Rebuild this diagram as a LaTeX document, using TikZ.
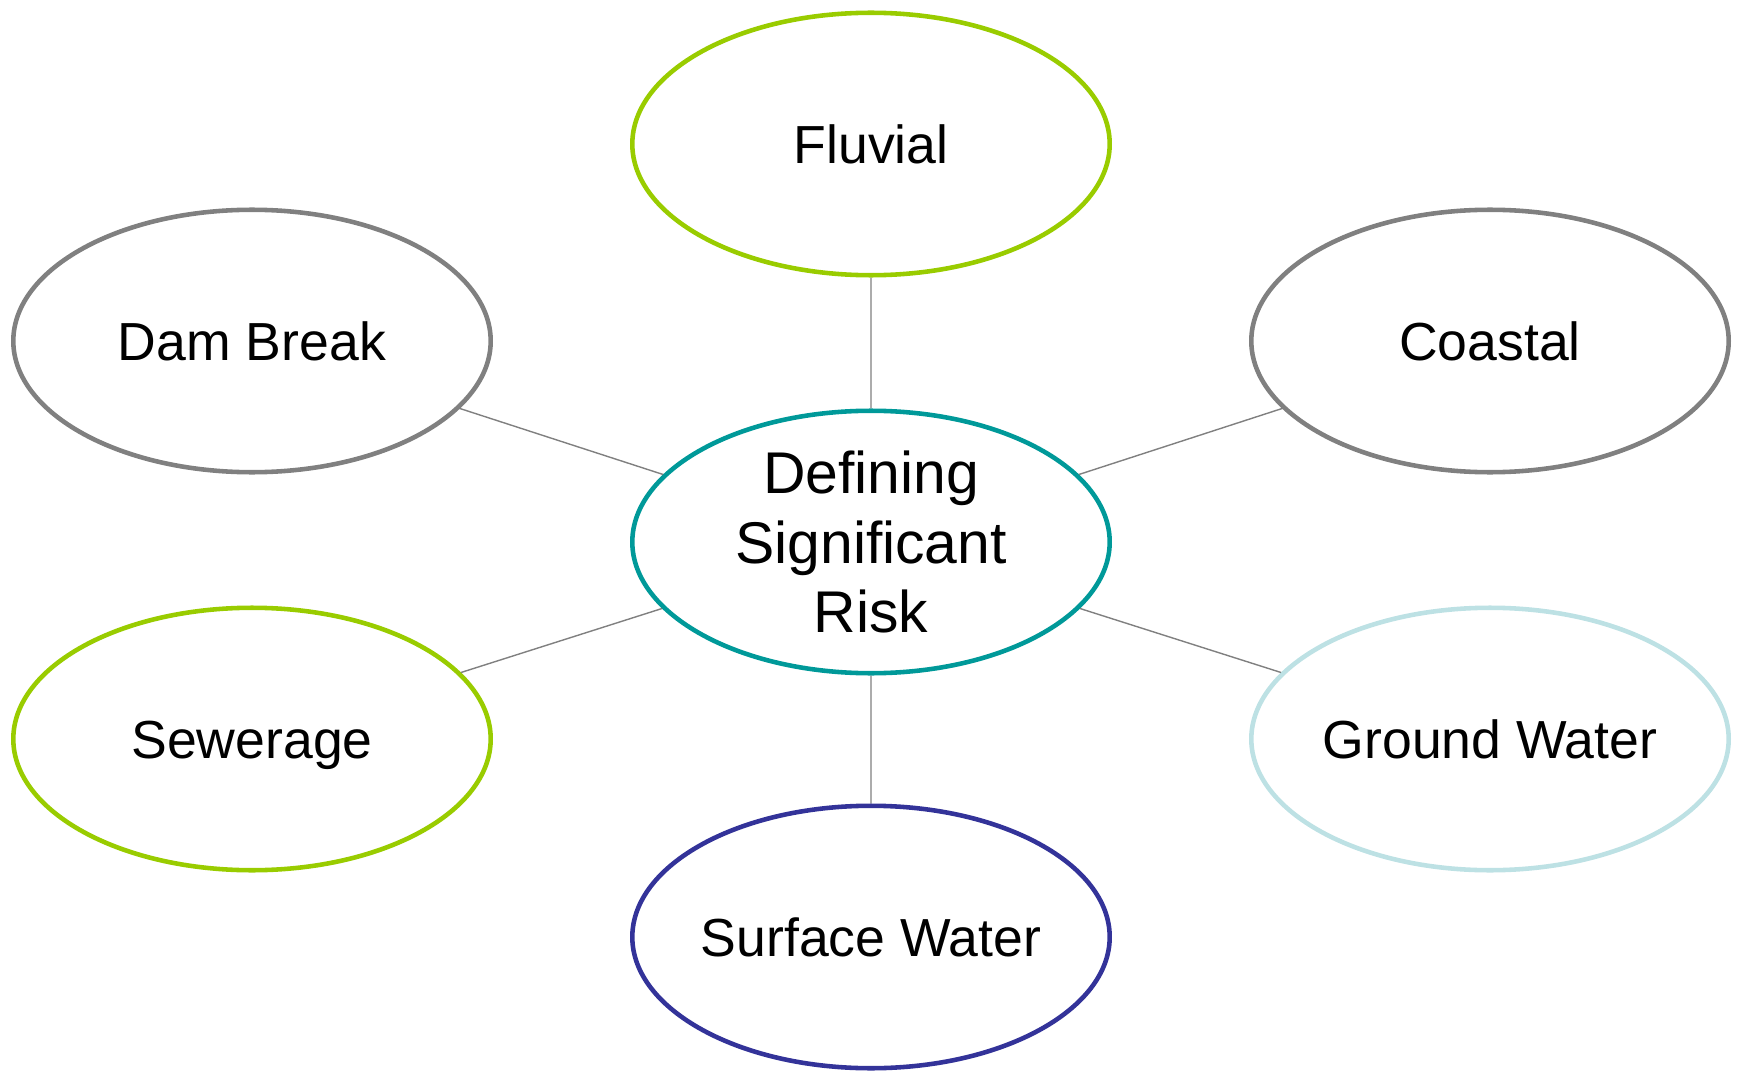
\documentclass[tikz,border=0pt]{standalone}
\usepackage{fontspec}
\setmainfont{Liberation Sans}
\usetikzlibrary{shapes.geometric}
\definecolor{riskgreen}{HTML}{99CC00}
\definecolor{riskteal}{HTML}{009999}
\definecolor{riskgrey}{HTML}{808080}
\definecolor{riskpale}{HTML}{BDE1E4}
\definecolor{risknavy}{HTML}{333399}

\begin{document}
\begin{tikzpicture}[x=0.02cm, y=-0.02cm,
    topic/.style={ellipse, draw, line width=2.6pt, fill=white, minimum width=9.55cm,
        minimum height=5.25cm, inner xsep=-12pt, inner ysep=0pt, align=center,
        text height=29pt, text depth=6.4pt,
        font=\fontsize{30.5}{37}\selectfont},
    link/.style={draw=riskgrey, line width=0.8pt}]
\useasboundingbox (0,0) rectangle (1738,1071);
\node[topic, draw=riskteal, text height=, text depth=,
    font=\fontsize{33.5}{39.5}\selectfont] (risk) at (871,542) {Defining\\Significant\\Risk};
\node[topic, draw=riskgreen] (fluvial) at (871,144) {Fluvial};
\node[topic, draw=riskgrey] (dam) at (252,341) {Dam Break};
\node[topic, draw=riskgrey] (coastal) at (1490,341) {Coastal};
\node[topic, draw=riskgreen] (sewer) at (252,739) {Sewerage};
\node[topic, draw=riskpale] (ground) at (1490,739) {Ground Water};
\node[topic, draw=risknavy] (surface) at (871,937) {Surface Water};
\draw[link] (risk) -- (fluvial)
(risk) -- (dam)
(risk) -- (coastal)
(risk) -- (sewer)
(risk) -- (ground)
(risk) -- (surface);
\end{tikzpicture}
\end{document}
